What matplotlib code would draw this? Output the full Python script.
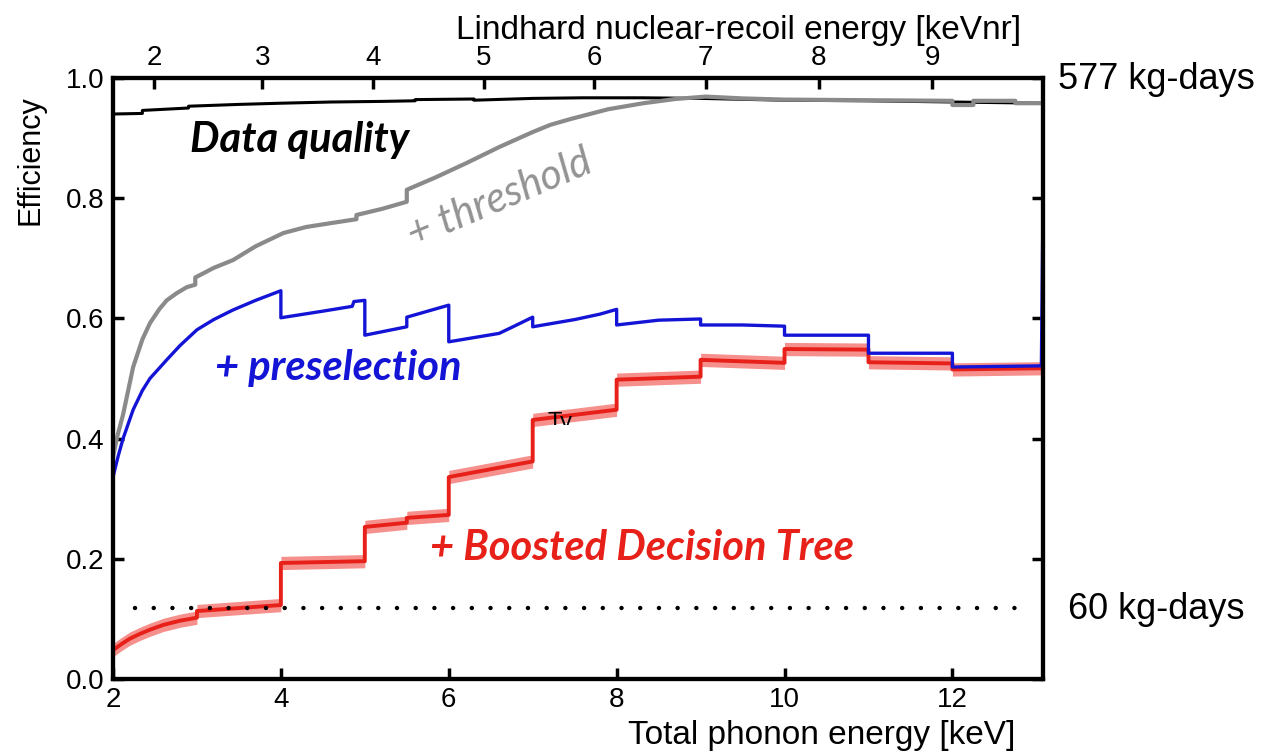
import matplotlib
matplotlib.use("Agg")
import matplotlib.pyplot as plt
from matplotlib.patches import Rectangle

# Total phonon energy [keV] vs efficiency for each successive cut
dq_x = [2.0, 2.35, 2.35, 2.9, 2.9, 3.5, 4.0, 4.6, 5.2, 5.6, 5.6, 6.3, 6.3, 7.0, 7.6,
        8.3, 9.0, 10.0, 11.0, 12.0, 13.08]
dq_y = [0.940, 0.941, 0.946, 0.950, 0.953, 0.956, 0.958, 0.960, 0.961, 0.962, 0.964,
        0.965, 0.963, 0.966, 0.967, 0.967, 0.966, 0.963, 0.962, 0.960, 0.958]

thr_x = [2.0, 2.05, 2.12, 2.24, 2.35, 2.44, 2.55, 2.64, 2.76, 2.88, 2.98, 2.98, 3.2,
         3.43, 3.7, 4.03, 4.3, 4.62, 4.9, 4.9, 5.2, 5.5, 5.5, 5.85, 6.22, 6.6, 7.0,
         7.21, 7.46, 7.9, 8.32, 8.7, 9.06, 9.5, 10.0, 11.0, 12.0, 12.0, 12.25, 12.25,
         12.75, 12.75, 13.08]
thr_y = [0.37, 0.403, 0.44, 0.519, 0.565, 0.592, 0.615, 0.63, 0.642, 0.652, 0.656,
         0.668, 0.684, 0.697, 0.72, 0.742, 0.752, 0.759, 0.765, 0.772, 0.782, 0.794,
         0.814, 0.835, 0.859, 0.885, 0.91, 0.922, 0.932, 0.948, 0.958, 0.965, 0.969,
         0.966, 0.964, 0.963, 0.962, 0.955, 0.955, 0.962, 0.962, 0.958, 0.958]

pre_x = [2.0, 2.06, 2.12, 2.24, 2.35, 2.44, 2.55, 2.64, 2.8, 3.0, 3.2, 3.43, 3.7, 4.0,
         4.0, 4.5, 4.85, 4.87, 5.0, 5.0, 5.5, 5.5, 6.0, 6.0, 6.6, 6.75, 7.0, 7.0, 7.5,
         7.8, 8.0, 8.0, 8.5, 9.0, 9.0, 9.5, 10.0, 10.0, 11.0, 11.0, 12.0, 12.0, 13.06,
         13.08]
pre_y = [0.336, 0.37, 0.40, 0.448, 0.48, 0.50, 0.517, 0.531, 0.555, 0.581, 0.598,
         0.614, 0.63, 0.646, 0.601, 0.612, 0.62, 0.628, 0.63, 0.572, 0.586, 0.602,
         0.622, 0.561, 0.575, 0.585, 0.602, 0.586, 0.598, 0.607, 0.615, 0.589, 0.597,
         0.599, 0.589, 0.589, 0.587, 0.572, 0.572, 0.542, 0.542, 0.519, 0.521, 0.80]

bdt_x = [2.0, 2.1, 2.2, 2.32, 2.44, 2.6, 2.8, 3.0, 3.0, 3.5, 4.0, 4.0, 5.0, 5.0, 5.5,
         5.5, 6.0, 6.0, 7.0, 7.0, 8.0, 8.0, 9.0, 9.0, 10.0, 10.0, 11.0, 11.0, 12.0,
         12.0, 13.08]
bdt_y = [0.048, 0.058, 0.067, 0.075, 0.082, 0.09, 0.097, 0.102, 0.113, 0.118, 0.123,
         0.193, 0.196, 0.253, 0.26, 0.268, 0.273, 0.336, 0.362, 0.431, 0.448, 0.498,
         0.503, 0.531, 0.526, 0.549, 0.548, 0.527, 0.525, 0.515, 0.517]
bdt_err = 0.011

# 60 kg-days exposure line
exp60_x = [2.26, 12.95]
exp60_y = [0.118, 0.118]

# Lindhard nuclear-recoil scale on the top axis
nr_pos = [2.49, 3.78, 5.10, 6.42, 7.73, 9.06, 10.41, 11.76]
nr_labels = ["2", "3", "4", "5", "6", "7", "8", "9"]

x_ticks = [2, 4, 6, 8, 10, 12]
y_ticks = [0.0, 0.2, 0.4, 0.6, 0.8, 1.0]

plt.rcParams['font.family'] = ['Liberation Sans', 'DejaVu Sans']

fig = plt.figure(figsize=(12.64, 7.54), dpi=100)
ax = fig.add_axes([0.0894, 0.0995, 0.7358, 0.7971])

ax.fill_between(bdt_x, [v - bdt_err for v in bdt_y], [v + bdt_err for v in bdt_y],
                color='#f26b66', alpha=0.75, lw=0, zorder=2)
ax.plot(bdt_x, bdt_y, color='#e8201a', lw=2.8, zorder=3)
ax.plot(pre_x, pre_y, color='#1414d6', lw=2.4, zorder=4)
ax.plot(dq_x, dq_y, color='black', lw=2.2, zorder=4)
ax.plot(thr_x, thr_y, color='#8a8a8a', lw=3.0, zorder=5)
ax.plot(exp60_x, exp60_y, color='black', lw=3.2, dashes=(0.01, 4.2),
        dash_capstyle='round', zorder=6)

# curve annotations
ann = dict(family=['Lato', 'DejaVu Sans'], style='italic', fontsize=30)
ax.text(2.92, 0.877, "Data quality", color='black', weight='bold', **ann)
ax.text(6.61, 0.80, "+ threshold", color='#939393', rotation=23,
        rotation_mode='anchor', ha='center', va='center', **ann)
ax.text(3.22, 0.497, "+ preselection", color='#1414d6', weight='bold', **ann)
ax.text(5.78, 0.198, "+ Boosted Decision Tree", color='#e8201a', weight='bold', **ann)

# stray label, only its upper half shows
ty = ax.text(7.18, 0.445, "Ty", fontsize=17, color='black', va='top', zorder=3.5,
             clip_on=True)
clip = Rectangle((7.0, 0.4226), 1.0, 0.05, transform=ax.transData)
ty.set_clip_path(clip)

ax.set_xlim(2, 13.08)
ax.set_ylim(0, 1.0)
ax.set_xticks(x_ticks)
ax.set_yticks(y_ticks)
ax.set_yticklabels([f"{v:.1f}" for v in y_ticks])
ax.tick_params(axis='both', direction='in', length=8, width=2.5, labelsize=20, pad=6)
ax.tick_params(axis='y', right=True)
for s in ax.spines.values():
    s.set_linewidth(3)

ax.set_xlabel("Total phonon energy [keV]", fontsize=24, ha='right')
ax.xaxis.set_label_coords(0.97, -0.068)
ax.set_ylabel("Efficiency", fontsize=22, va='center')
ax.yaxis.set_label_coords(-0.089, 0.864)

top = ax.twiny()
top.set_xlim(ax.get_xlim())
top.set_xticks(nr_pos)
top.set_xticklabels(nr_labels)
top.tick_params(axis='x', direction='in', length=8, width=2.5, labelsize=20, pad=5)
top.set_xlabel("Lindhard nuclear-recoil energy [keVnr]", fontsize=24)
top.xaxis.set_label_coords(0.673, 1.065)
for s in top.spines.values():
    s.set_linewidth(3)

fig.text(0.837, 0.894, "577 kg-days", fontsize=26, va='center')
fig.text(0.845, 0.191, "60 kg-days", fontsize=26, va='center')

fig.savefig("out.png", dpi=100)
